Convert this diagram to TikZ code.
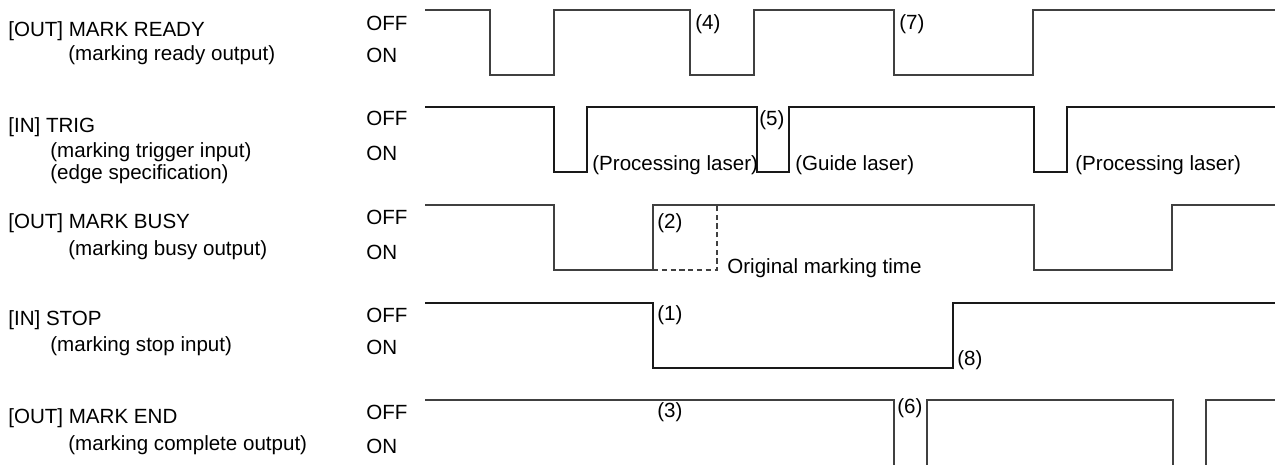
\documentclass[tikz,border=0pt]{standalone}
\usepackage{fontspec}
\setmainfont{Liberation Sans}
\usetikzlibrary{positioning}

\begin{document}
\begin{tikzpicture}[x=0.02cm,y=-0.02cm,
  every node/.style={font=\fontsize{11.7}{14}\selectfont,inner sep=0pt,anchor=west},
  wave/.style={line width=0.8pt,black!75},
  strongwave/.style={line width=1pt,black!90},
  original/.style={line width=0.6pt,black!75,dash pattern=on 3pt off 2pt}]
  \useasboundingbox (0,0) rectangle (1275,464);
  % Signal names.
  \node (readyName) at (8,31) {[OUT] MARK READY};
  \node (readySub) at (68,55) {(marking ready output)};
  \node (trigName) at (8,127) {[IN] TRIG};
  \node (trigSub) at (50,152) {(marking trigger input)};
  \node (trigEdge) at (50,174) {(edge specification)};
  \node (busyName) at (8,223) {[OUT] MARK BUSY};
  \node (busySub) at (68,250) {(marking busy output)};
  \node (stopName) at (8,320) {[IN] STOP};
  \node (stopSub) at (50,346) {(marking stop input)};
  \node (endName) at (8,418) {[OUT] MARK END};
  \node (endSub) at (68,445) {(marking complete output)};

  % Levels of each signal.
  \foreach \yoff/\yon [count=\i] in {23/55,118/153,217/252,315/347,412/446} {
    \node (off\i) at (366,\yoff) {OFF};
    \node (on\i) at (366,\yon) {ON};
  }

  % MARK READY
  \draw[wave] (425,10) -- (490,10) -- (490,75) -- (554,75) -- (554,10)
    -- (690,10) -- (690,75) -- (754,75) -- (754,10) -- (894,10)
    -- (894,75) -- (1033,75) -- (1033,10) -- (1275,10);
  \node (step4) at (695,24) {(4)};
  \node (step7) at (899,24) {(7)};

  % TRIG
  \draw[strongwave] (425,107) -- (554,107) -- (554,172) -- (587,172) -- (587,107)
    -- (757,107) -- (757,172) -- (789,172) -- (789,107) -- (1034,107)
    -- (1034,172) -- (1067,172) -- (1067,107) -- (1275,107);
  \node (procFirst) at (592,165) {(Processing laser)};
  \node (step5) at (759,120) {(5)};
  \node (guide) at (795,165) {(Guide laser)};
  \node (procSecond) at (1075,165) {(Processing laser)};

  % MARK BUSY, with the original marking time dashed
  \draw[wave] (425,205) -- (554,205) -- (554,270) -- (653,270) -- (653,205)
    -- (1034,205) -- (1034,270) -- (1172,270) -- (1172,205) -- (1275,205);
  \draw[original] (653,270) -- (717,270) -- (717,205);
  \node (step2) at (657,223) {(2)};
  \node (origTime) at (727,268) {Original marking time};

  % STOP
  \draw[strongwave] (425,303) -- (653,303) -- (653,368) -- (953,368)
    -- (953,303) -- (1275,303);
  \node (step1) at (657,315) {(1)};
  \node (step8) at (957,360) {(8)};

  % MARK END
  \draw[wave] (425,400) -- (894,400) -- (894,470);
  \draw[wave] (927,470) -- (927,400) -- (1173,400) -- (1173,470);
  \draw[wave] (1206,470) -- (1206,400) -- (1275,400);
  \node (step3) at (657,412) {(3)};
  \node (step6) at (897,408) {(6)};
\end{tikzpicture}
\end{document}
